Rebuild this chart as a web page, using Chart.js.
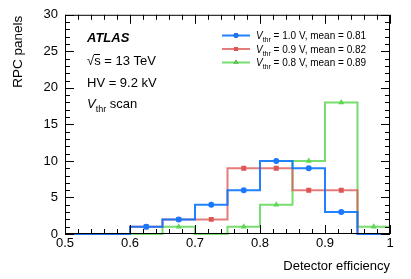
<!DOCTYPE html>
<html>
<head>
<meta charset="utf-8">
<script src="https://cdn.jsdelivr.net/npm/chart.js@4.4.1/dist/chart.umd.min.js"></script>
<style>
  html, body { margin: 0; padding: 0; background: #fff; }
  #wrap { width: 411px; height: 279px; }
</style>
</head>
<body>
<div id="wrap"><canvas id="c" width="411" height="279"></canvas></div>
<script>
// histogram bins (detector efficiency), 0.05 wide
const binEdges = [0.50, 0.55, 0.60, 0.65, 0.70, 0.75, 0.80, 0.85, 0.90, 0.95, 1.00];
// number of RPC panels per bin
const vthr10 = [0, 0, 1, 2, 4, 6, 10, 9, 3, 0];
const vthr09 = [0, 0, 1, 2, 2, 9, 9, 6, 6, 0];
const vthr08 = [0, 0, 0, 1, 0, 1, 4, 10, 18, 1];
const seriesNames = [' = 1.0 V, mean = 0.81', ' = 0.9 V, mean = 0.82', ' = 0.8 V, mean = 0.89'];
const xTicks = [0.5, 0.6, 0.7, 0.8, 0.9, 1.0];
const yTicks = [0, 5, 10, 15, 20, 25, 30];

const FONT = '"Liberation Sans", Arial, Helvetica, sans-serif';
const colors = ['rgba(10,115,255,0.9)', 'rgba(222,90,90,0.8)', 'rgba(95,215,85,0.85)'];
const markerColors = ['#1a78ff', '#dd5555', '#5fd555'];
const markerStyles = ['circle', 'rect', 'triangle'];
const markerSizes = [3, 3.5, 3.5];
const allSeries = [vthr10, vthr09, vthr08];

// step outline: value of bin i held from its left edge to its right edge
function stepData(vals) {
  const pts = [{ x: binEdges[0], y: vals[0] }];
  vals.forEach((v, i) => pts.push({ x: binEdges[i + 1], y: v }));
  return pts;
}
function centerData(vals) {
  const pts = [];
  vals.forEach((v, i) => {
    if (v > 0) pts.push({ x: (binEdges[i] + binEdges[i + 1]) / 2, y: v });
  });
  return pts;
}

const datasets = [];
allSeries.forEach((vals, k) => {
  datasets.push({
    type: 'scatter', data: centerData(vals), showLine: false,
    pointStyle: markerStyles[k], pointRadius: markerSizes[k],
    backgroundColor: markerColors[k], borderColor: markerColors[k], borderWidth: 0
  });
});
allSeries.forEach((vals, k) => {
  datasets.push({
    type: 'line', data: stepData(vals), stepped: 'after',
    borderColor: colors[k], borderWidth: 2, pointRadius: 0, fill: false, clip: 2
  });
});

function drawSubLabel(ctx, x, y, size, rest) {
  ctx.textAlign = 'left';
  ctx.textBaseline = 'alphabetic';
  ctx.font = 'italic ' + size + 'px ' + FONT;
  ctx.fillText('V', x, y);
  x += ctx.measureText('V').width;
  ctx.font = Math.round(size * 0.7) + 'px ' + FONT;
  ctx.fillText('thr', x, y + size * 0.3);
  x += ctx.measureText('thr').width;
  ctx.font = size + 'px ' + FONT;
  ctx.fillText(rest, x, y);
}

const decorations = {
  id: 'decorations',
  afterDraw(chart) {
    const ctx = chart.ctx;
    const a = chart.chartArea;
    const xs = chart.scales.x, ys = chart.scales.y;
    ctx.save();
    ctx.strokeStyle = '#000';
    ctx.lineWidth = 1;
    ctx.strokeRect(a.left + 0.5, a.top + 0.5, a.right - a.left - 1, a.bottom - a.top - 1);
    ctx.beginPath();
    // x ticks every 0.02, major every 0.1
    for (let i = 0; i <= 25; i++) {
      const px = Math.round(xs.getPixelForValue(0.5 + i * 0.02)) + 0.5;
      const len = i % 5 === 0 ? 9 : 5;
      ctx.moveTo(px, a.bottom); ctx.lineTo(px, a.bottom - len);
      ctx.moveTo(px, a.top); ctx.lineTo(px, a.top + len);
    }
    // y ticks every 1, major every 5
    for (let j = 0; j <= 30; j++) {
      const py = Math.round(ys.getPixelForValue(j)) + 0.5;
      const len = j % 5 === 0 ? 9 : 5;
      ctx.moveTo(a.left, py); ctx.lineTo(a.left + len, py);
      ctx.moveTo(a.right, py); ctx.lineTo(a.right - len, py);
    }
    ctx.stroke();

    ctx.fillStyle = '#000';
    // axis titles
    ctx.font = '13px ' + FONT;
    ctx.textAlign = 'right';
    ctx.textBaseline = 'alphabetic';
    ctx.fillText('Detector efficiency', a.right, 270);
    ctx.save();
    ctx.translate(22, a.top + 1);
    ctx.rotate(-Math.PI / 2);
    ctx.font = '13.5px ' + FONT;
    ctx.fillText('RPC panels', 0, 0);
    ctx.restore();

    // labels
    ctx.textAlign = 'left';
    ctx.font = 'italic bold 13px ' + FONT;
    ctx.fillText('ATLAS', 87, 42);
    ctx.font = '13px ' + FONT;
    ctx.fillText('\u221As = 13 TeV', 87, 65);
    ctx.beginPath();
    ctx.moveTo(94, 54.5); ctx.lineTo(100, 54.5);
    ctx.stroke();
    ctx.fillText('HV = 9.2 kV', 87, 87);
    drawSubLabel(ctx, 87, 108, 13, ' scan');

    // legend
    const rows = [35.5, 49, 62.5];
    rows.forEach((ry, k) => {
      ctx.strokeStyle = colors[k];
      ctx.lineWidth = 2;
      ctx.beginPath();
      ctx.moveTo(222, ry); ctx.lineTo(250, ry);
      ctx.stroke();
      Chart.helpers.drawPoint(ctx, {
        pointStyle: markerStyles[k], radius: markerSizes[k] * 0.8, borderWidth: 0
      }, 236, ry);
      ctx.fillStyle = markerColors[k];
      ctx.fill();
      ctx.fillStyle = '#000';
      drawSubLabel(ctx, 256, ry + 3.5, 10, seriesNames[k]);
    });
    ctx.restore();
  }
};

new Chart(document.getElementById('c').getContext('2d'), {
  data: { datasets },
  options: {
    responsive: false,
    animation: false,
    devicePixelRatio: 1,
    layout: { padding: { top: 14, right: 21, left: 0, bottom: 0 } },
    plugins: { legend: { display: false }, tooltip: { enabled: false } },
    scales: {
      x: {
        type: 'linear', min: 0.5, max: 1.0,
        afterBuildTicks: s => { s.ticks = xTicks.map(v => ({ value: v })); },
        afterFit: s => { s.height = 45; },
        grid: { display: false, drawTicks: false }, border: { display: false },
        ticks: {
          color: '#000', font: { family: FONT, size: 13 }, padding: 2, maxRotation: 0,
          callback: v => (v === 1 ? '1' : v.toFixed(1))
        }
      },
      y: {
        type: 'linear', min: 0, max: 30,
        afterBuildTicks: s => { s.ticks = yTicks.map(v => ({ value: v })); },
        afterFit: s => { s.width = 65; },
        grid: { display: false, drawTicks: false }, border: { display: false },
        ticks: { color: '#000', font: { family: FONT, size: 13 }, padding: 7 }
      }
    }
  },
  plugins: [decorations]
});
</script>
</body>
</html>
